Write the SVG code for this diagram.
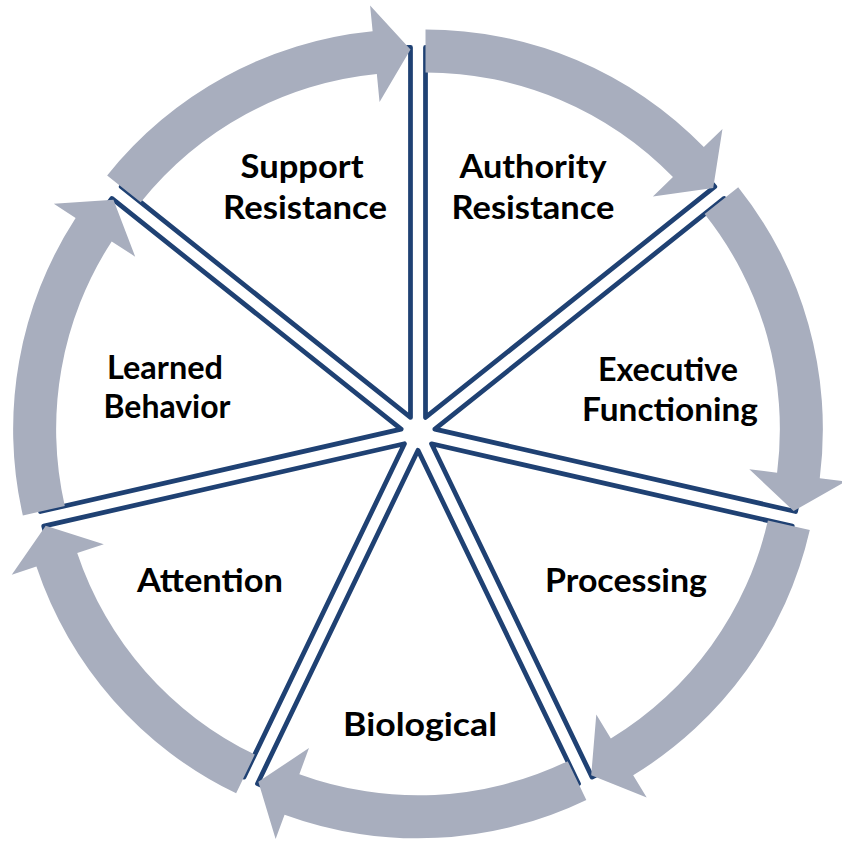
<svg xmlns="http://www.w3.org/2000/svg" width="842" height="843" viewBox="0 0 842 843">
<style>
.seg{fill:#ffffff;stroke:#1F4173;stroke-width:4.75;stroke-linejoin:round}
.arr{fill:#A8AEBE;stroke:none}
.lbl{font-family:Lato,"Liberation Sans",sans-serif;font-weight:bold;font-size:33px;fill:#000000;text-anchor:middle}
</style>
<defs>
<path id="sector" d="M0,0 L0,-370 A370,370 0 0 1 289.28,-230.69 Z"/>
<path id="carrow" d="M0,-388 A388,388 0 0 1 278.30,-270.36 L296.95,-288.48 L287.71,-229.44 L227.37,-220.89 L247.46,-240.40 A345,345 0 0 0 0,-345 Z"/>
</defs>
<rect width="842" height="843" fill="#ffffff"/>
<g id="node-authority">
<use href="#sector" class="seg" transform="translate(418 433) rotate(0) translate(7.506 -15.587)"/>
<text class="lbl" x="533" y="178" textLength="147" lengthAdjust="spacingAndGlyphs">Authority</text>
<text class="lbl" x="533" y="219" textLength="163" lengthAdjust="spacingAndGlyphs">Resistance</text>
</g>
<g id="node-executive">
<use href="#sector" class="seg" transform="translate(418 433) rotate(51.4286) translate(7.506 -15.587)"/>
<text class="lbl" x="668" y="381" textLength="140" lengthAdjust="spacingAndGlyphs">Executive</text>
<text class="lbl" x="670" y="421" textLength="176" lengthAdjust="spacingAndGlyphs">Functioning</text>
</g>
<g id="node-processing">
<use href="#sector" class="seg" transform="translate(418 433) rotate(102.8571) translate(7.506 -15.587)"/>
<text class="lbl" x="626" y="592" textLength="162" lengthAdjust="spacingAndGlyphs">Processing</text>
</g>
<g id="node-biological">
<use href="#sector" class="seg" transform="translate(418 433) rotate(154.2857) translate(7.506 -15.587)"/>
<text class="lbl" x="420" y="736" textLength="154" lengthAdjust="spacingAndGlyphs">Biological</text>
</g>
<g id="node-attention">
<use href="#sector" class="seg" transform="translate(418 433) rotate(205.7143) translate(7.506 -15.587)"/>
<text class="lbl" x="210" y="592" textLength="146" lengthAdjust="spacingAndGlyphs">Attention</text>
</g>
<g id="node-learned">
<use href="#sector" class="seg" transform="translate(418 433) rotate(257.1429) translate(7.506 -15.587)"/>
<text class="lbl" x="165" y="379" textLength="116" lengthAdjust="spacingAndGlyphs">Learned</text>
<text class="lbl" x="167" y="418" textLength="127" lengthAdjust="spacingAndGlyphs">Behavior</text>
</g>
<g id="node-support">
<use href="#sector" class="seg" transform="translate(418 433) rotate(308.5714) translate(7.506 -15.587)"/>
<text class="lbl" x="302" y="178" textLength="123" lengthAdjust="spacingAndGlyphs">Support</text>
<text class="lbl" x="305" y="219" textLength="164" lengthAdjust="spacingAndGlyphs">Resistance</text>
</g>
<g id="connectors">
<use href="#carrow" class="arr" transform="translate(418 433) rotate(0) translate(7.506 -15.587)"/>
<use href="#carrow" class="arr" transform="translate(418 433) rotate(51.4286) translate(7.506 -15.587)"/>
<use href="#carrow" class="arr" transform="translate(418 433) rotate(102.8571) translate(7.506 -15.587)"/>
<use href="#carrow" class="arr" transform="translate(418 433) rotate(154.2857) translate(7.506 -15.587)"/>
<use href="#carrow" class="arr" transform="translate(418 433) rotate(205.7143) translate(7.506 -15.587)"/>
<use href="#carrow" class="arr" transform="translate(418 433) rotate(257.1429) translate(7.506 -15.587)"/>
<use href="#carrow" class="arr" transform="translate(418 433) rotate(308.5714) translate(7.506 -15.587)"/>
</g>
</svg>
